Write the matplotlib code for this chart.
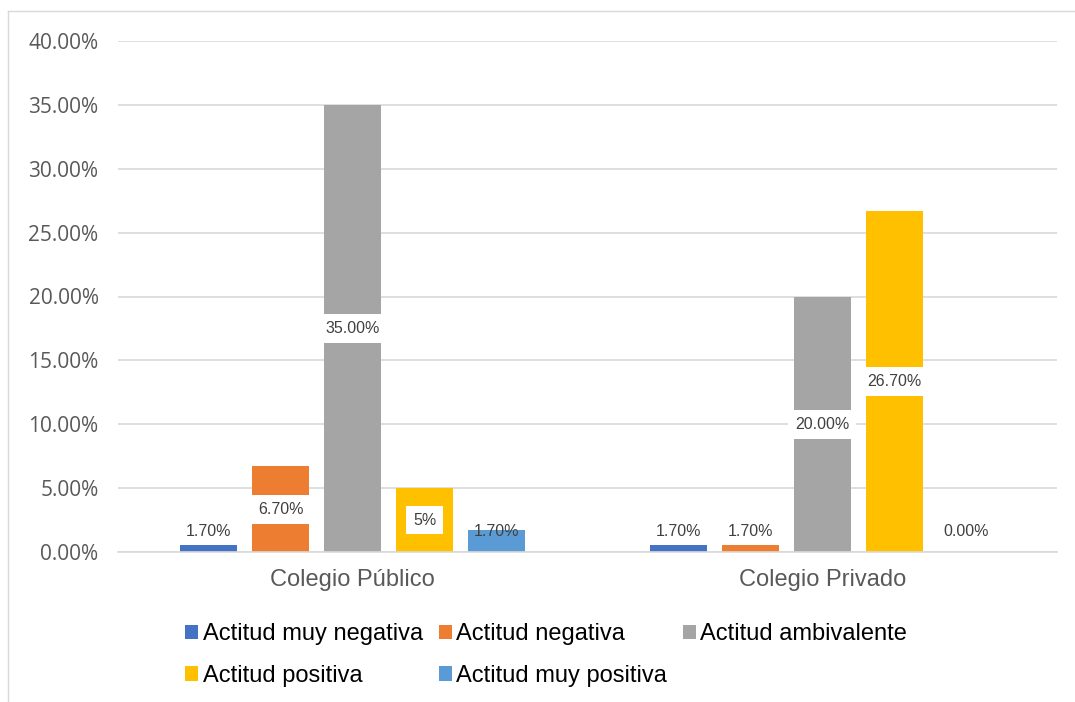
import matplotlib
matplotlib.use("Agg")
import matplotlib.pyplot as plt
from matplotlib.patches import Patch
from matplotlib.lines import Line2D

colegios = ["Colegio Público", "Colegio Privado"]
actitudes = ["Actitud muy negativa", "Actitud negativa", "Actitud ambivalente",
             "Actitud positiva", "Actitud muy positiva"]
colores = ["#4472C4", "#ED7D31", "#A5A5A5", "#FFC000", "#5B9BD5"]

# bar heights as drawn in the picture (percent)
publico = [0.55, 6.7, 35.0, 5.0, 1.7]
privado = [0.55, 0.55, 20.0, 26.7, 0.0]
# data labels as written on the chart
etiq_publico = ["1.70%", "6.70%", "35.00%", "5%", "1.70%"]
etiq_privado = ["1.70%", "1.70%", "20.00%", "26.70%", "0.00%"]

yticks = [0, 5, 10, 15, 20, 25, 30, 35, 40]

fig = plt.figure(figsize=(10.75, 7.02), dpi=100)
ax = fig.add_axes([118 / 1075, 1 - 552 / 702, 939 / 1075, 511 / 702])

ancho = 0.1214
paso = 0.1534
valores = [publico, privado]
etiquetas = [etiq_publico, etiq_privado]

for g in range(2):
    for i in range(5):
        x = g + (i - 2) * paso
        h = valores[g][i]
        ax.bar(x, h, width=ancho, color=colores[i], zorder=2)
        txt = etiquetas[g][i]
        if h > 3:
            ax.text(x, h / 2, txt, ha="center", va="center", fontsize=11.5,
                    color="#404040", family="Liberation Sans", zorder=3,
                    bbox=dict(facecolor="white", edgecolor="none", pad=5))
        else:
            ax.text(x, 1.0, txt, ha="center", va="bottom", fontsize=11.5,
                    color="#404040", family="Liberation Sans", zorder=3)

ax.set_xlim(-0.5, 1.5)
ax.set_ylim(0, 40)
ax.set_yticks(yticks)
ax.set_yticklabels([f"{v:.2f}%" for v in yticks], family="Open Sans",
                   fontsize=15, color="#595959")
ax.set_xticks([0, 1])
ax.set_xticklabels(colegios, family="Liberation Sans", fontsize=17,
                   color="#595959")
ax.tick_params(axis="both", length=0)
ax.tick_params(axis="y", pad=14)
ax.tick_params(axis="x", pad=12)
ax.grid(axis="y", color="#d9d9d9", linewidth=1.2, zorder=0)
for s in ["top", "right", "left"]:
    ax.spines[s].set_visible(False)
ax.spines["bottom"].set_color("#d9d9d9")
ax.spines["bottom"].set_linewidth(1.2)

# outer chart frame (top and left only visible)
fig.add_artist(Line2D([8 / 1075, 1], [1 - 11 / 702, 1 - 11 / 702],
                      transform=fig.transFigure, color="#d9d9d9", linewidth=1))
fig.add_artist(Line2D([8 / 1075, 8 / 1075], [0, 1 - 11 / 702],
                      transform=fig.transFigure, color="#d9d9d9", linewidth=1))

handles = [Patch(facecolor=c, edgecolor="none") for c in colores]
orden = [0, 3, 1, 4, 2]
fig.legend([handles[i] for i in orden], [actitudes[i] for i in orden],
           ncol=3, loc="upper left", bbox_to_anchor=(176 / 1075, 1 - 614 / 702),
           frameon=False, prop={"family": "Liberation Sans", "size": 17},
           handlelength=0.55, handleheight=0.55, handletextpad=0.2,
           columnspacing=0.65, labelspacing=0.82, borderaxespad=0)

fig.savefig("out.png", dpi=100)
